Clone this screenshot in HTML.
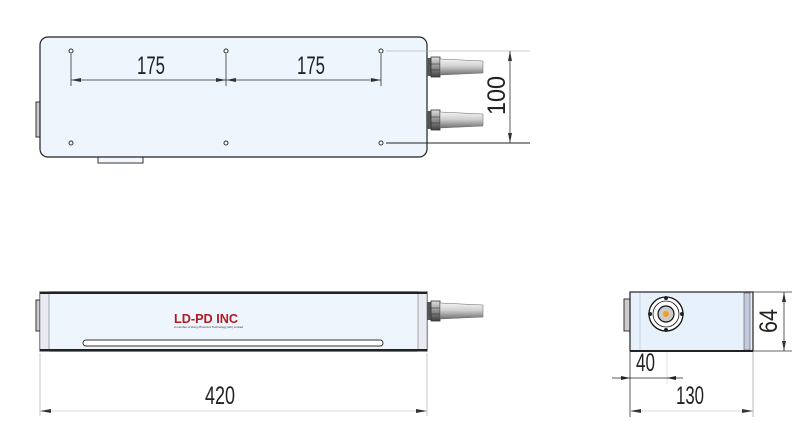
<!DOCTYPE html>
<html><head><meta charset="utf-8"><style>
html,body{margin:0;padding:0;background:#fff;}
svg{display:block;}
text{font-family:"Liberation Sans",sans-serif;}
</style></head><body>
<svg width="800" height="441" viewBox="0 0 800 441" xmlns="http://www.w3.org/2000/svg">
<defs>
<linearGradient id="tube" x1="0" y1="0" x2="0" y2="1">
<stop offset="0" stop-color="#f4f4f4"/><stop offset="0.45" stop-color="#d0d0d0"/><stop offset="1" stop-color="#707070"/>
</linearGradient>
<linearGradient id="nut" x1="0" y1="0" x2="0" y2="1">
<stop offset="0" stop-color="#e0e0e0"/><stop offset="0.5" stop-color="#909090"/><stop offset="1" stop-color="#404040"/>
</linearGradient>
<g id="conn">
<rect x="0" y="-9" width="4" height="18" fill="#555"/>
<rect x="4" y="-10" width="9" height="20" fill="url(#nut)" stroke="#333" stroke-width="0.8"/>
<line x1="4" y1="-3" x2="13" y2="-3" stroke="#333" stroke-width="0.6"/>
<line x1="4" y1="3" x2="13" y2="3" stroke="#333" stroke-width="0.6"/>
<path d="M13,-8 L56,-6 L56,6 L13,8 Z" fill="url(#tube)" stroke="#666" stroke-width="0.5"/>
</g>
</defs>

<!-- TOP VIEW -->
<rect x="36" y="102" width="5" height="35" fill="#ccc" stroke="#333" stroke-width="1"/>
<rect x="98" y="156" width="45" height="7" fill="#f4f8fc" stroke="#333" stroke-width="1"/>
<rect x="40" y="37" width="387" height="120" rx="8" fill="#eef5fc" stroke="#222" stroke-width="1.2"/>
<g fill="#fff" stroke="#333" stroke-width="1">
<circle cx="71" cy="51" r="2"/><circle cx="226" cy="51" r="2"/><circle cx="381" cy="51" r="2"/>
<circle cx="71" cy="143" r="2"/><circle cx="226" cy="143" r="2"/><circle cx="381" cy="143" r="2"/>
</g>
<g stroke="#333" stroke-width="0.8">
<line x1="71" y1="54" x2="71" y2="86"/><line x1="226" y1="54" x2="226" y2="86"/><line x1="381" y1="54" x2="381" y2="86"/>
<line x1="71" y1="80" x2="226" y2="80"/><line x1="226" y1="80" x2="381" y2="80"/>
</g>
<g fill="#333">
<path d="M71,80 l10,-2 v4z"/><path d="M226,80 l-10,-2 v4z"/><path d="M226,80 l10,-2 v4z"/><path d="M381,80 l-10,-2 v4z"/>
</g>
<text x="137" y="74" font-size="25" textLength="28" lengthAdjust="spacingAndGlyphs" fill="#222">175</text>
<text x="297" y="74" font-size="25" textLength="28" lengthAdjust="spacingAndGlyphs" fill="#222">175</text>
<use href="#conn" x="427" y="67"/>
<use href="#conn" x="427" y="120"/>
<line x1="386" y1="51" x2="530" y2="51" stroke="#bbb" stroke-width="0.8"/>
<line x1="386" y1="143" x2="530" y2="143" stroke="#222" stroke-width="1"/>
<line x1="510" y1="51" x2="510" y2="143" stroke="#333" stroke-width="0.8"/>
<path d="M510,51 l-2,10 h4z" fill="#333"/><path d="M510,143 l-2,-10 h4z" fill="#333"/>
<text transform="translate(505,115) rotate(-90)" font-size="25" textLength="39" lengthAdjust="spacingAndGlyphs" fill="#222">100</text>

<!-- FRONT VIEW -->
<rect x="36" y="300" width="5" height="31" fill="#ccc" stroke="#333" stroke-width="1"/>
<rect x="40" y="292" width="387" height="59" fill="#eef5fc" stroke="#222" stroke-width="1.2"/>
<rect x="40" y="292" width="9" height="59" fill="#e8ecf2" stroke="#777" stroke-width="0.6"/>
<rect x="418" y="292" width="9" height="59" fill="#e8ecf2" stroke="#777" stroke-width="0.6"/>
<line x1="40" y1="293" x2="427" y2="293" stroke="#222" stroke-width="2"/>
<line x1="40" y1="350" x2="427" y2="350" stroke="#222" stroke-width="2"/>
<rect x="83" y="340" width="300" height="6" rx="3" fill="#fff" stroke="#333" stroke-width="1"/>
<text x="174" y="323" font-size="13" font-weight="bold" fill="#b01c22" textLength="64" lengthAdjust="spacingAndGlyphs">LD-PD INC</text>
<text x="174" y="328" font-size="3" fill="#333" textLength="69" lengthAdjust="spacingAndGlyphs">A member of Dong Photonics Technology (HK) Limited</text>
<use href="#conn" x="427" y="311"/>
<line x1="40" y1="353" x2="40" y2="416" stroke="#bbb" stroke-width="0.8"/>
<line x1="427" y1="353" x2="427" y2="416" stroke="#bbb" stroke-width="0.8"/>
<line x1="40" y1="411" x2="427" y2="411" stroke="#ccc" stroke-width="0.8"/>
<path d="M40,411 l11,-2 v4z" fill="#333"/><path d="M427,411 l-11,-2 v4z" fill="#333"/>
<text x="205" y="404" font-size="25" textLength="30" lengthAdjust="spacingAndGlyphs" fill="#222">420</text>

<!-- SIDE VIEW -->
<rect x="624" y="299" width="6" height="32" fill="#ccc" stroke="#333" stroke-width="1"/>
<rect x="630" y="292" width="123" height="59" fill="#e6f1fb" stroke="#222" stroke-width="1.2"/>
<line x1="640" y1="293" x2="640" y2="350" stroke="#bcd" stroke-width="0.8"/>
<rect x="744" y="293" width="6" height="57" fill="#c8c8e0" stroke="#555" stroke-width="0.6"/>
<line x1="630" y1="351" x2="753" y2="351" stroke="#222" stroke-width="2"/>
<circle cx="666" cy="314" r="17" fill="#fff" stroke="#111" stroke-width="1.3"/>
<circle cx="666" cy="314" r="13" fill="none" stroke="#111" stroke-width="0.8"/>
<circle cx="666" cy="314" r="8" fill="#ccc" stroke="#111" stroke-width="1.2"/>
<circle cx="666" cy="314" r="3" fill="#f0a020"/>
<g fill="#222"><circle cx="666" cy="298" r="2"/><circle cx="666" cy="330" r="2"/><circle cx="650" cy="314" r="2"/><circle cx="682" cy="314" r="2"/></g>
<line x1="753" y1="292" x2="792" y2="292" stroke="#333" stroke-width="0.8"/>
<line x1="753" y1="351" x2="792" y2="351" stroke="#333" stroke-width="0.8"/>
<line x1="784" y1="292" x2="784" y2="351" stroke="#333" stroke-width="0.8"/>
<path d="M784,292 l-2,10 h4z" fill="#333"/><path d="M784,351 l-2,-10 h4z" fill="#333"/>
<text transform="translate(777,333) rotate(-90)" font-size="25" textLength="24" lengthAdjust="spacingAndGlyphs" fill="#222">64</text>
<line x1="630" y1="352" x2="630" y2="417" stroke="#333" stroke-width="0.8"/>
<line x1="667" y1="352" x2="667" y2="384" stroke="#ddd" stroke-width="0.8"/>
<line x1="753" y1="352" x2="753" y2="417" stroke="#aaa" stroke-width="0.8"/>
<line x1="612" y1="378" x2="683" y2="378" stroke="#222" stroke-width="0.8"/>
<path d="M630,378 l-9,-2 v4z" fill="#222"/><path d="M667,378 l9,-2 v4z" fill="#222"/>
<text x="636" y="371" font-size="25" textLength="19" lengthAdjust="spacingAndGlyphs" fill="#222">40</text>
<line x1="630" y1="411" x2="753" y2="411" stroke="#ccc" stroke-width="0.8"/>
<path d="M630,411 l11,-2 v4z" fill="#333"/><path d="M753,411 l-11,-2 v4z" fill="#333"/>
<text x="676" y="404" font-size="25" textLength="28" lengthAdjust="spacingAndGlyphs" fill="#222">130</text>
</svg>
</body></html>
